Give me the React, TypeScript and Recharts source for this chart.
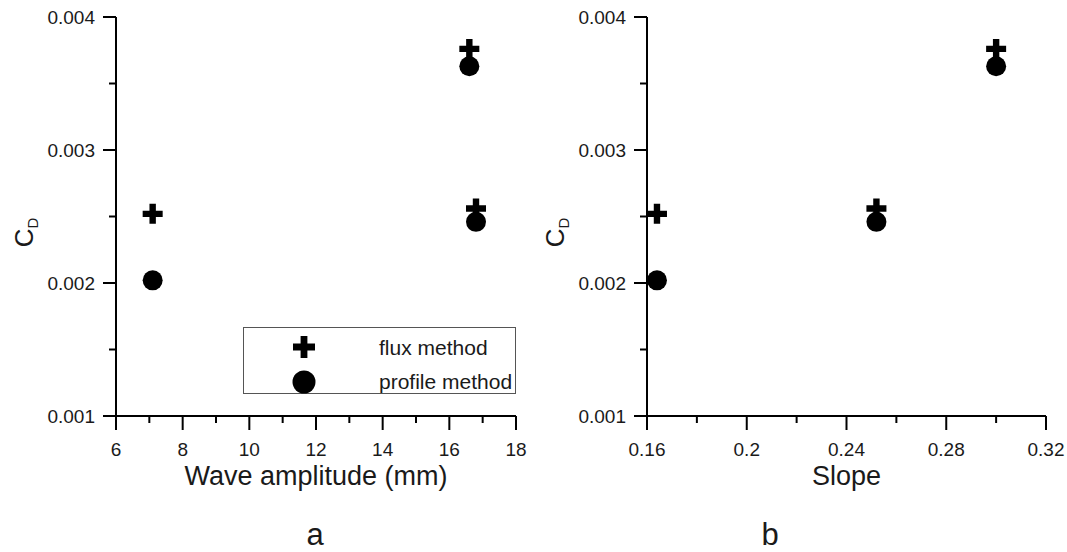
import { Label, Legend, Scatter, ScatterChart, XAxis, YAxis } from "recharts"

// values
const amplitude = [7.1, 16.6, 16.8]
const slope = [0.164, 0.3, 0.252]
const fluxCd = [0.00252, 0.00376, 0.00256]
const profileCd = [0.00202, 0.00363, 0.00246]

const seriesNames = ["flux method", "profile method"]
const panelLetters = ["a", "b"]

const amplitudeTicks = [6, 7, 8, 9, 10, 11, 12, 13, 14, 15, 16, 17, 18]
const amplitudeMajor = [6, 8, 10, 12, 14, 16, 18]
const slopeTicks = [0.16, 0.18, 0.2, 0.22, 0.24, 0.26, 0.28, 0.3, 0.32]
const slopeMajor = [0.16, 0.2, 0.24, 0.28, 0.32]
const cdTicks = [0.001, 0.0015, 0.002, 0.0025, 0.003, 0.0035, 0.004]
const cdMajor = [0.001, 0.002, 0.003, 0.004]

const FONT = "'Liberation Sans', Arial, sans-serif"
const INK = "#1a1a1a"

const toPoints = (xs: number[], ys: number[]) => xs.map((x, i) => ({ x, y: ys[i] }))

const plusPath = (cx: number, cy: number, l: number, t: number) =>
  `M${cx - t},${cy - l}H${cx + t}V${cy - t}H${cx + l}V${cy + t}H${cx + t}V${cy + l}` +
  `H${cx - t}V${cy + t}H${cx - l}V${cy - t}H${cx - t}Z`

const PlusShape = (props: any) => <path d={plusPath(props.cx, props.cy, 10, 3.2)} fill="#000" />
const DotShape = (props: any) => <circle cx={props.cx} cy={props.cy} r={10} fill="#000" />

const makeXTick = (majors: number[]) => (props: any) => {
  const { x, y, payload } = props
  const major = majors.includes(payload.value)
  return (
    <g>
      <line x1={x} x2={x} y1={y} y2={y + (major ? 14 : 7)} stroke="#000" strokeWidth={2} />
      {major && (
        <text x={x} y={y + 40} textAnchor="middle" fontSize={19} fontFamily={FONT} fill={INK}>
          {String(payload.value)}
        </text>
      )}
    </g>
  )
}

const YTick = (props: any) => {
  const { x, y, payload } = props
  const major = cdMajor.includes(payload.value)
  return (
    <g>
      <line x1={x - (major ? 13 : 7)} x2={x} y1={y} y2={y} stroke="#000" strokeWidth={2} />
      {major && (
        <text x={x - 21} y={y + 7} textAnchor="end" fontSize={19} fontFamily={FONT} fill={INK}>
          {String(payload.value)}
        </text>
      )}
    </g>
  )
}

const renderLegend = (props: any) => {
  const names: string[] = props.payload?.length ? props.payload.map((p: any) => p.value) : seriesNames
  return (
    <svg width={273} height={67} style={{ display: "block" }}>
      <rect x={0.5} y={0.5} width={272} height={66} fill="#fff" stroke="#555" strokeWidth={1} />
      {names.map((name, i) => (
        <g key={name}>
          {i === 0 ? (
            <path d={plusPath(61, 20, 11, 3.4)} fill="#000" />
          ) : (
            <circle cx={61} cy={55} r={11.5} fill="#000" />
          )}
          <text x={136} y={i === 0 ? 28 : 62} fontSize={21} fontFamily={FONT} fill={INK}>
            {name}
          </text>
        </g>
      ))}
    </svg>
  )
}

type PanelProps = {
  xs: number[]
  xTicks: number[]
  xMajor: number[]
  xTitle: string
  left: number
  width: number
  marginRight: number
  legend?: boolean
}

const Panel = ({ xs, xTicks, xMajor, xTitle, left, width, marginRight, legend }: PanelProps) => (
  <div style={{ position: "absolute", left, top: 0 }}>
    <ScatterChart width={width} height={552} margin={{ top: 17, right: marginRight, bottom: 76, left: 0 }}>
      <XAxis
        dataKey="x"
        type="number"
        domain={[xTicks[0], xTicks[xTicks.length - 1]]}
        ticks={xTicks}
        interval={0}
        height={60}
        tickSize={0}
        tickMargin={0}
        tickLine={false}
        tick={makeXTick(xMajor)}
        axisLine={{ stroke: "#000", strokeWidth: 2 }}
      >
        <Label
          content={(p: any) => {
            const vb = p.viewBox || { x: 116, y: 416, width: 400 }
            return (
              <text x={vb.x + vb.width / 2} y={vb.y + 69} textAnchor="middle" fontSize={27} fontFamily={FONT} fill={INK}>
                {xTitle}
              </text>
            )
          }}
        />
      </XAxis>
      <YAxis
        dataKey="y"
        type="number"
        domain={[0.001, 0.004]}
        ticks={cdTicks}
        interval={0}
        width={116}
        tickSize={0}
        tickMargin={0}
        tickLine={false}
        tick={YTick}
        axisLine={{ stroke: "#000", strokeWidth: 2 }}
      >
        <Label
          content={(p: any) => {
            const vb = p.viewBox || { y: 17, height: 399 }
            const cy = vb.y + vb.height / 2 + 16
            return (
              <text transform={`translate(33, ${cy}) rotate(-90)`} textAnchor="middle" fontSize={26} fontFamily={FONT} fill={INK}>
                C
                <tspan fontSize={15} dy={5}>
                  D
                </tspan>
              </text>
            )
          }}
        />
      </YAxis>
      {legend && (
        <Legend
          layout="vertical"
          align="center"
          verticalAlign="middle"
          content={renderLegend}
          wrapperStyle={{ left: 243, top: 327, width: 273, height: 67 }}
        />
      )}
      <Scatter name={seriesNames[0]} data={toPoints(xs, fluxCd)} shape={PlusShape} isAnimationActive={false} />
      <Scatter name={seriesNames[1]} data={toPoints(xs, profileCd)} shape={DotShape} isAnimationActive={false} />
    </ScatterChart>
  </div>
)

export default function App() {
  return (
    <div style={{ position: "absolute", left: 0, top: 0, width: 1067, height: 552, overflow: "hidden", background: "#fff" }}>
      <Panel
        xs={amplitude}
        xTicks={amplitudeTicks}
        xMajor={amplitudeMajor}
        xTitle="Wave amplitude (mm)"
        left={0}
        width={540}
        marginRight={24}
        legend
      />
      <Panel xs={slope} xTicks={slopeTicks} xMajor={slopeMajor} xTitle="Slope" left={531} width={536} marginRight={21} />
      <svg width={1067} height={40} style={{ position: "absolute", left: 0, top: 512, display: "block" }}>
        {panelLetters.map((letter, i) => (
          <text key={letter} x={i === 0 ? 315 : 770} y={33} textAnchor="middle" fontSize={31} fontFamily={FONT} fill={INK}>
            {letter}
          </text>
        ))}
      </svg>
    </div>
  )
}
